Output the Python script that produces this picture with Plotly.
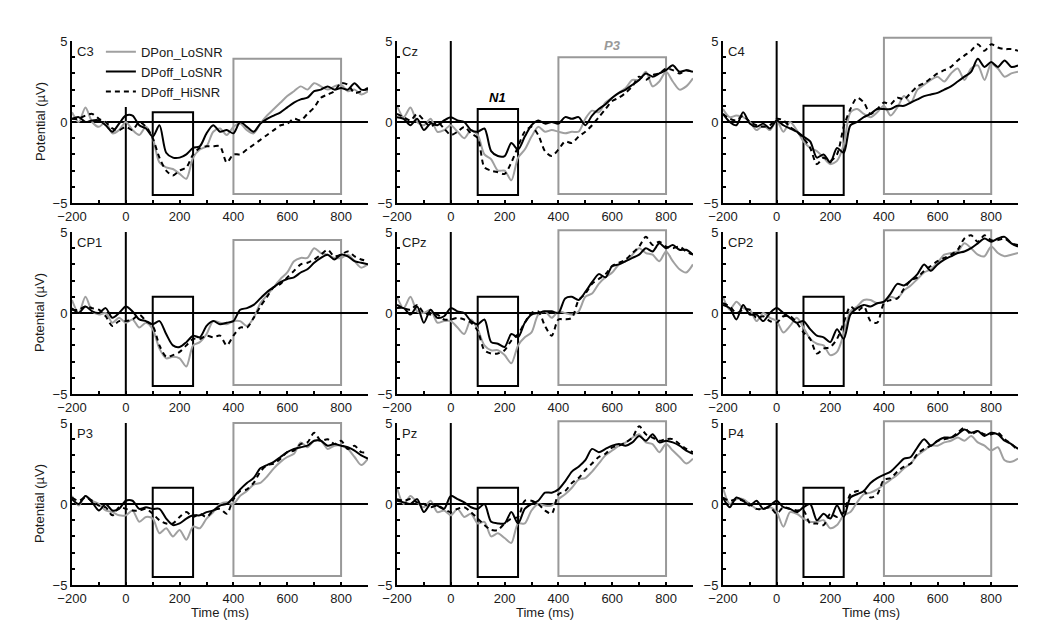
import plotly.graph_objects as go

# ---------------- data ----------------
time_ms = list(range(-200, 901, 25))
series_names = ["DPon_LoSNR", "DPoff_LoSNR", "DPoff_HiSNR"]
channels = ["C3", "Cz", "C4", "CP1", "CPz", "CP2", "P3", "Pz", "P4"]

x_tick_vals = list(range(-200, 901, 100))
x_tick_text = ["\u2212200", "", "0", "", "200", "", "400", "", "600", "", "800", ""]
y_tick_vals = list(range(-5, 6))
y_tick_text = ["\u22125", "", "", "", "", "0", "", "", "", "", "5"]

# N1 window (ms) and P3 window (ms)
n1_window = [100, 250]
p3_window = [400, 800]
n1_top = [0.6, 0.8, 1.0, 1.0, 1.0, 1.0, 1.0, 1.0, 1.0]
n1_bottom = [-4.5] * 9
p3_top = [3.9, 4.0, 5.2, 4.5, 5.1, 5.1, 5.0, 5.1, 5.1]
p3_bottom = [-4.45] * 9

# ---- C3 ----
c3_dpon_lo = [0.6, 0.0, 0.9, 0.0, -0.3, 0.0, -0.7, -0.5,
              0.0, -0.5, -0.8, -0.3, -1.0, -2.5, -2.8, -2.9,
              -3.2, -3.5, -2.2, -1.7, -1.5, -0.6, -0.4, -0.8,
              -0.3, -0.1, -0.5, -0.7, -0.1, 0.4, 0.8, 1.2,
              1.6, 1.9, 2.2, 2.0, 2.4, 2.2, 2.0, 2.2,
              2.3, 1.9, 2.0, 1.7, 1.9]
c3_dpoff_lo = [0.2, 0.3, 0.0, 0.1, 0.1, -0.2, -0.6, -0.1,
               0.4, 0.4, -0.2, -0.4, -0.9, -0.2, -1.9, -2.2,
               -2.2, -2.0, -1.6, -1.5, -0.7, -0.2, -0.6, -0.5,
               -0.7, 0.0, -0.3, -0.6, -0.1, 0.2, 0.4, 0.6,
               0.9, 1.2, 1.4, 1.5, 1.9, 2.0, 2.2, 2.0,
               2.1, 2.0, 2.4, 2.0, 2.0]
c3_dpoff_hi = [0.2, 0.2, 0.4, 0.5, 0.2, 0.0, -0.4, -0.5,
               -0.3, -0.5, 0.0, -0.3, -1.0, -2.2, -3.0, -3.3,
               -3.0, -2.8, -2.0, -1.6, -1.5, -1.5, -1.5, -2.5,
               -2.0, -2.0, -1.7, -1.4, -1.1, -0.8, -0.5, -0.2,
               -0.1, 0.2, 0.1, 0.5, 0.9, 1.5, 1.7, 1.9,
               2.4, 2.3, 1.8, 1.9, 2.1]
# ---- Cz ----
cz_dpon_lo = [1.0, 0.3, 0.9, 0.0, -0.2, 0.2, -0.6, -0.5,
              -0.2, -0.6, -1.0, -0.5, -0.8, -2.0, -2.3, -3.0,
              -3.0, -3.6, -2.2, -1.7, -0.9, -0.3, -0.6, -0.5,
              -0.6, -0.7, -0.6, -0.6, 0.2, 0.7, 0.6, 1.2,
              1.5, 1.8, 2.1, 2.6, 2.6, 3.1, 2.2, 2.5,
              3.1, 2.5, 2.0, 2.2, 2.7]
cz_dpoff_lo = [0.3, 0.2, -0.2, 0.2, -0.5, -0.1, -0.2, 0.1,
               0.3, 0.1, 0.0, -0.5, -0.6, -0.4, -1.8, -2.1,
               -2.1, -1.3, -1.7, -0.9, -0.2, 0.1, -0.1, 0.0,
               -0.1, 0.3, 0.2, 0.3, -0.2, 0.4, 0.8, 1.1,
               1.5, 1.8, 2.0, 2.3, 2.6, 3.0, 2.8, 3.0,
               3.2, 3.5, 3.1, 3.2, 3.1]
cz_dpoff_hi = [0.5, 0.3, 0.1, 0.5, 0.1, -0.3, 0.0, -0.4,
               -0.8, -0.6, -0.3, -0.7, -1.0, -2.8, -3.0, -3.1,
               -3.2, -2.5, -1.5, -0.6, -0.3, -0.8, -1.8, -2.1,
               -1.7, -1.2, -1.3, -0.9, -0.6, -0.2, 0.3, 0.8,
               1.3, 1.5, 1.8, 2.2, 2.8, 2.6, 2.9, 3.0,
               3.3, 3.2, 3.0, 3.2, 3.1]
# ---- C4 ----
c4_dpon_lo = [0.8, 0.3, 0.4, 0.3, 0.0, -0.5, -0.2, -0.5,
              0.1, -0.6, 0.0, -0.5, -1.2, -1.6, -1.8, -2.2,
              -2.6, -2.4, -1.4, 0.6, 0.8, 0.5, 0.3, 0.6,
              1.0, 0.4, 0.9, 1.6, 1.2, 2.0, 2.3, 2.6,
              2.8, 2.5, 3.0, 3.3, 2.6, 3.3, 3.5, 2.6,
              3.6, 3.3, 2.8, 3.0, 3.1]
c4_dpoff_lo = [0.5, 0.0, -0.2, 0.6, -0.1, -0.3, -0.1, -0.4,
               0.1, -0.2, -0.4, -0.6, -0.9, -1.2, -2.2, -2.0,
               -2.5, -1.6, -1.9, -0.2, 0.0, 0.3, 0.5, 0.8,
               0.8, 0.8, 1.0, 1.0, 1.2, 1.4, 1.6, 1.7,
               1.8, 2.0, 2.2, 2.5, 2.8, 3.1, 3.9, 3.4,
               3.7, 3.4, 3.8, 3.4, 3.5]
c4_dpoff_hi = [0.5, 0.2, 0.1, 0.4, 0.0, -0.2, -0.3, -0.2,
               0.2, 0.1, -0.3, -0.6, -1.0, -1.6, -2.6, -2.2,
               -2.4, -2.0, -0.3, 0.8, 1.5, 1.2, 0.5, 0.8,
               1.2, 1.1, 1.5, 1.4, 1.8, 2.2, 2.4, 2.7,
               3.0, 3.2, 3.4, 3.8, 4.1, 4.4, 4.8, 4.4,
               4.8, 4.6, 4.5, 4.5, 4.4]
# ---- CP1 ----
cp1_dpon_lo = [0.8, 0.0, 1.0, 0.1, -0.1, 0.0, -0.6, -0.3,
               -0.6, -0.4, -0.9, -0.6, -1.0, -2.2, -2.8, -2.7,
               -2.8, -3.3, -2.0, -1.8, -1.3, -0.5, -0.6, -0.7,
               -0.5, -0.5, -0.8, -0.3, 0.6, 1.1, 1.6, 2.1,
               2.5, 3.2, 3.4, 3.4, 4.0, 3.7, 3.6, 3.4,
               3.4, 3.6, 3.2, 2.8, 3.0]
cp1_dpoff_lo = [0.3, 0.0, 0.4, 0.1, 0.0, 0.3, -0.3, 0.0,
                0.4, 0.1, -0.4, -0.5, -0.7, -0.5, -1.3, -2.0,
                -2.1, -1.8, -1.4, -1.5, -0.8, -0.5, -0.7, -0.6,
                -0.5, 0.2, 0.3, 0.5, 0.9, 1.3, 1.6, 1.9,
                2.1, 2.2, 2.5, 2.7, 3.1, 3.4, 3.6, 3.3,
                3.6, 3.5, 3.2, 3.1, 3.0]
cp1_dpoff_hi = [0.2, 0.2, 0.4, 0.3, 0.2, -0.2, -0.8, -0.5,
                -0.5, -0.4, -0.1, -0.5, -0.8, -2.0, -2.7, -2.6,
                -2.4, -2.0, -1.6, -1.6, -1.4, -1.5, -1.4, -2.0,
                -1.4, -0.9, -0.9, -0.3, 0.4, 1.0, 1.6, 1.8,
                2.2, 2.6, 3.0, 3.1, 3.3, 3.6, 3.9, 3.5,
                3.6, 3.8, 3.5, 3.3, 3.2]
# ---- CPz ----
cpz_dpon_lo = [1.0, 0.3, 1.0, 0.1, 0.0, 0.2, -0.6, -0.5,
               -0.5, -0.9, -1.3, -0.4, -1.0, -2.0, -2.3, -2.3,
               -2.6, -3.1, -2.0, -1.5, -1.2, -0.1, 0.1, -0.3,
               0.1, 0.0, -0.1, 0.1, 1.0, 1.2, 1.8, 2.2,
               2.5, 3.0, 3.2, 3.6, 4.0, 3.7, 3.6, 3.2,
               3.8, 3.2, 2.7, 2.5, 3.0]
cpz_dpoff_lo = [0.3, 0.3, -0.1, 0.4, -0.6, 0.2, -0.3, -0.2,
                0.3, 0.1, 0.0, -0.5, -0.7, -0.4, -1.8, -1.9,
                -2.1, -1.3, -1.5, -0.6, -0.1, 0.0, 0.1, 0.1,
                0.0, 0.9, 1.0, 0.8, 1.3, 1.9, 2.4, 2.2,
                2.9, 3.0, 3.2, 3.4, 3.6, 4.0, 3.8, 4.3,
                4.0, 4.2, 3.9, 3.9, 3.6]
cpz_dpoff_hi = [0.5, 0.3, 0.2, 0.5, 0.0, -0.1, -0.1, -0.4,
                -0.4, -0.3, -0.4, -0.6, -1.1, -2.3, -2.5, -2.5,
                -2.3, -1.7, -1.3, -0.6, 0.0, 0.1, -0.8, -1.4,
                -0.4, -0.4, -0.3, 0.8, 1.2, 1.8, 2.1, 2.4,
                2.9, 3.1, 3.3, 3.7, 4.1, 4.7, 4.2, 4.4,
                4.1, 4.0, 4.1, 3.8, 3.6]
# ---- CP2 ----
cp2_dpon_lo = [1.0, 0.2, 0.7, 0.3, 0.2, -0.5, 0.0, -0.3,
               -0.5, -1.2, -0.8, -0.3, -0.9, -1.6, -1.9, -2.0,
               -2.6, -2.4, -1.3, 0.1, 0.4, 0.8, 0.8, 0.6,
               0.7, 1.0, 0.9, 1.4, 1.7, 2.1, 2.5, 2.7,
               3.1, 3.6, 3.7, 3.8, 4.3, 4.0, 3.6, 3.5,
               4.1, 3.7, 3.5, 3.6, 3.7]
cp2_dpoff_lo = [0.5, 0.3, -0.4, 0.5, -0.1, -0.1, -0.5, 0.0,
                0.3, 0.0, -0.3, -0.6, -0.5, -1.0, -1.4, -1.5,
                -1.8, -1.0, -1.6, -0.1, 0.3, 0.5, 0.4, 0.6,
                0.7, 1.2, 1.8, 1.7, 2.0, 2.4, 3.0, 2.6,
                3.0, 3.3, 3.5, 3.7, 3.8, 4.0, 4.3, 4.6,
                4.4, 4.6, 4.7, 4.3, 4.1]
cp2_dpoff_hi = [0.6, 0.4, 0.0, 0.2, 0.2, -0.3, -0.2, -0.5,
                -0.6, -0.2, -0.2, -0.6, -1.2, -1.6, -2.5, -2.2,
                -2.1, -1.6, -0.6, 0.4, 0.1, 0.4, -0.5, -0.6,
                0.6, 0.8, 0.9, 1.5, 2.0, 2.2, 2.6, 2.9,
                3.2, 3.4, 3.6, 3.9, 4.6, 4.8, 4.4, 4.8,
                4.5, 4.5, 4.6, 4.3, 4.2]
# ---- P3 ----
p3_dpon_lo = [0.5, -0.1, 0.5, 0.2, 0.0, -0.4, -0.5, -0.7,
              -0.7, -0.4, -1.1, -0.8, -0.9, -1.8, -1.5, -2.0,
              -1.6, -2.2, -1.4, -1.5, -0.9, -0.5, 0.0, 0.1,
              0.0, 0.5, 0.8, 1.2, 1.3, 1.7, 2.2, 2.6,
              2.9, 3.1, 3.8, 3.5, 3.9, 3.9, 3.4, 3.6,
              3.6, 3.4, 2.9, 2.4, 2.8]
p3_dpoff_lo = [0.3, 0.0, 0.5, 0.1, -0.4, 0.0, -0.4, -0.3,
               0.2, 0.2, -0.3, -0.2, -0.3, -0.3, -0.9, -1.3,
               -1.2, -0.9, -0.7, -0.7, -0.5, -0.4, -0.1, 0.0,
               0.4, 0.9, 1.3, 1.6, 2.2, 2.4, 2.6, 2.9,
               3.2, 3.4, 3.5, 3.6, 3.9, 3.9, 3.6, 3.7,
               3.6, 3.5, 3.3, 3.0, 2.8]
p3_dpoff_hi = [0.4, 0.2, 0.4, 0.2, -0.1, -0.2, -0.7, -0.2,
               -0.3, -0.4, -0.4, -0.3, -0.6, -1.0, -1.2, -1.2,
               -0.8, -0.5, -0.8, -0.6, -0.8, -0.4, -0.3, -0.6,
               0.3, 0.8, 0.9, 1.3, 2.0, 2.4, 2.5, 2.8,
               3.2, 3.3, 3.7, 3.8, 4.4, 3.9, 4.0, 3.7,
               3.9, 3.4, 3.6, 3.2, 3.2]
# ---- Pz ----
pz_dpon_lo = [1.0, 0.0, 0.5, 0.1, -0.2, 0.2, -0.5, -0.4,
              -0.7, -0.3, -0.8, -0.6, -1.2, -1.1, -2.0, -1.8,
              -2.1, -2.4, -1.2, -1.2, -0.4, 0.0, -0.1, -0.1,
              0.3, 0.6, 1.0, 1.5, 1.6, 2.0, 2.5, 3.0,
              3.3, 3.6, 3.8, 4.1, 4.3, 3.8, 3.7, 3.2,
              3.7, 3.3, 2.9, 2.5, 2.8]
pz_dpoff_lo = [0.2, 0.1, 0.0, 0.3, -0.5, 0.0, -0.1, -0.3,
               0.5, 0.3, 0.1, -0.2, -0.3, 0.0, -1.1, -1.2,
               -1.2, -0.5, -1.2, -0.3, 0.0, 0.2, 0.7, 0.7,
               0.9, 1.4, 2.0, 2.3, 2.7, 3.4, 3.2, 3.4,
               3.6, 3.7, 3.6, 3.8, 4.2, 3.9, 4.3, 3.8,
               3.9, 3.8, 3.6, 3.3, 3.1]
pz_dpoff_hi = [0.3, 0.2, 0.3, 0.1, 0.0, -0.2, -0.1, -0.3,
               -0.5, -0.3, -0.2, -0.5, -0.9, -1.3, -1.6, -1.6,
               -1.2, -0.9, -0.8, 0.2, 0.2, 0.0, -0.4, -0.6,
               0.6, 0.8, 1.3, 1.6, 2.1, 2.5, 2.9, 3.1,
               3.5, 3.6, 3.8, 4.1, 4.8, 4.3, 4.1, 3.9,
               4.0, 4.0, 3.7, 3.4, 3.2]
# ---- P4 ----
p4_dpon_lo = [1.0, 0.0, 0.3, 0.3, 0.0, -0.3, -0.3, -0.2,
              -0.5, -1.4, -0.5, -0.6, -0.9, -1.1, -1.1, -1.0,
              -1.5, -1.3, -0.7, -0.5, 0.1, 0.6, 0.7, 0.9,
              1.2, 1.5, 1.8, 2.2, 2.5, 3.0, 3.3, 3.6,
              3.6, 3.8, 3.9, 4.1, 3.9, 4.2, 3.8, 3.6,
              3.3, 3.5, 2.7, 2.6, 2.8]
p4_dpoff_lo = [0.4, -0.2, 0.4, 0.2, -0.1, 0.2, -0.3, -0.1,
               0.2, -0.2, -0.3, -0.5, -0.2, 0.0, -1.0, -0.6,
               -0.9, -0.1, -0.8, 0.4, 0.6, 0.8, 1.3, 1.6,
               1.8, 2.0, 2.4, 2.8, 2.9, 3.5, 4.0, 3.6,
               3.9, 4.1, 4.1, 4.3, 4.6, 4.4, 4.5, 4.2,
               4.4, 4.3, 3.9, 3.7, 3.4]
p4_dpoff_hi = [0.4, 0.2, 0.3, 0.2, 0.0, -0.3, -0.3, -0.2,
               -0.6, -0.2, -0.3, -0.4, -0.4, -1.2, -1.2, -1.3,
               -0.6, -0.8, -0.5, 0.6, 0.8, 0.8, 0.4, 0.6,
               1.5, 1.6, 2.0, 2.3, 2.5, 3.1, 3.4, 3.6,
               3.9, 4.0, 4.1, 4.4, 4.7, 4.3, 4.5, 4.3,
               4.3, 4.4, 4.0, 3.7, 3.3]

panel_data = {
    "C3": (c3_dpon_lo, c3_dpoff_lo, c3_dpoff_hi),
    "Cz": (cz_dpon_lo, cz_dpoff_lo, cz_dpoff_hi),
    "C4": (c4_dpon_lo, c4_dpoff_lo, c4_dpoff_hi),
    "CP1": (cp1_dpon_lo, cp1_dpoff_lo, cp1_dpoff_hi),
    "CPz": (cpz_dpon_lo, cpz_dpoff_lo, cpz_dpoff_hi),
    "CP2": (cp2_dpon_lo, cp2_dpoff_lo, cp2_dpoff_hi),
    "P3": (p3_dpon_lo, p3_dpoff_lo, p3_dpoff_hi),
    "Pz": (pz_dpon_lo, pz_dpoff_lo, pz_dpoff_hi),
    "P4": (p4_dpon_lo, p4_dpoff_lo, p4_dpoff_hi),
}

# ---------------- styling ----------------
FONT = "Liberation Sans, Arial, Helvetica, sans-serif"
TXT = "#1a1a1a"
GRAY_LINE = "#a0a0a0"
GRAY_BOX = "#999999"
Y_MIN, Y_MAX = -5, 5

styles = [
    dict(color=GRAY_LINE, width=2.0, dash="solid"),
    dict(color="#000000", width=2.0, dash="solid"),
    dict(color="#000000", width=2.0, dash="5px,4px"),
]
draw_order = [0, 2, 1]
legend_rank = {0: 1, 1: 2, 2: 3}

x_domains = [[0.0678, 0.3465], [0.3738, 0.6525], [0.6808, 0.9586]]
y_domains = [[0.6793, 0.9352], [0.3776, 0.6335], [0.0758, 0.3318]]


def dom_frac(v):
    return (v - Y_MIN) / (Y_MAX - Y_MIN)


fig = go.Figure()
layout = {}
shapes = []
annotations = []

for i, ch in enumerate(channels):
    r, c = divmod(i, 3)
    ax = "" if i == 0 else str(i + 1)
    xref, yref = "x" + ax, "y" + ax
    vals = panel_data[ch]
    for k in draw_order:
        fig.add_trace(go.Scatter(
            x=time_ms, y=vals[k], mode="lines",
            line=dict(color=styles[k]["color"], width=styles[k]["width"],
                      dash=styles[k]["dash"], shape="spline", smoothing=0.8),
            name=series_names[k], legendrank=legend_rank[k],
            showlegend=(i == 0), xaxis=xref, yaxis=yref, hoverinfo="skip"))

    common = dict(showline=True, linecolor="black", linewidth=2, mirror=False,
                  ticks="inside", ticklen=3, tickwidth=2, tickcolor="black",
                  showgrid=False, zeroline=False, automargin=False,
                  tickfont=dict(family=FONT, size=13, color=TXT))
    layout["xaxis" + ax] = dict(common, domain=x_domains[c], range=[-200, 900],
                                tickmode="array", tickvals=x_tick_vals, ticktext=x_tick_text,
                                anchor=yref)
    layout["yaxis" + ax] = dict(common, domain=y_domains[r], range=[Y_MIN, Y_MAX],
                                tickmode="array", tickvals=y_tick_vals, ticktext=y_tick_text,
                                anchor=xref)

    # zero lines
    shapes.append(dict(type="line", xref=xref, yref=yref, x0=-200, x1=900, y0=0, y1=0,
                       line=dict(color="black", width=2), layer="below"))
    shapes.append(dict(type="line", xref=xref, yref=yref, x0=0, x1=0, y0=Y_MIN, y1=Y_MAX,
                       line=dict(color="black", width=2), layer="below"))
    # analysis windows (y in domain fraction so the frame is not clipped)
    shapes.append(dict(type="rect", xref=xref, yref=yref + " domain",
                       x0=n1_window[0], x1=n1_window[1],
                       y0=dom_frac(n1_bottom[i]), y1=dom_frac(n1_top[i]),
                       line=dict(color="black", width=2),
                       fillcolor="rgba(0,0,0,0)", layer="below"))
    shapes.append(dict(type="rect", xref=xref, yref=yref + " domain",
                       x0=p3_window[0], x1=p3_window[1],
                       y0=dom_frac(p3_bottom[i]), y1=dom_frac(p3_top[i]),
                       line=dict(color=GRAY_BOX, width=2),
                       fillcolor="rgba(0,0,0,0)", layer="below"))
    # channel label
    annotations.append(dict(text=ch, xref=xref, yref=yref, x=-189, y=4.35,
                            xanchor="left", yanchor="middle", showarrow=False,
                            font=dict(family=FONT, size=13, color=TXT)))
    if c == 0:
        yc = sum(y_domains[r]) / 2
        annotations.append(dict(text="Potential (\u00b5V)", xref="paper", yref="paper",
                                x=0.0377, y=yc, textangle=-90, showarrow=False,
                                xanchor="center", yanchor="middle",
                                font=dict(family=FONT, size=13, color=TXT)))
    if r == 2:
        xc = sum(x_domains[c]) / 2
        annotations.append(dict(text="Time (ms)", xref="paper", yref="paper",
                                x=xc, y=0.033, showarrow=False,
                                xanchor="center", yanchor="middle",
                                font=dict(family=FONT, size=13, color=TXT)))

# component labels in Cz panel
annotations.append(dict(text="<b><i>N1</i></b>", xref="x2", yref="y2", x=175, y=1.5,
                        showarrow=False, font=dict(family=FONT, size=13, color="black")))
annotations.append(dict(text="<b><i>P3</i></b>", xref="x2", yref="y2", x=600, y=4.75,
                        showarrow=False, font=dict(family=FONT, size=13, color=GRAY_BOX)))

fig.update_layout(
    width=1062, height=633,
    margin=dict(l=0, r=0, t=0, b=0, autoexpand=False),
    paper_bgcolor="white", plot_bgcolor="white",
    font=dict(family=FONT, size=13, color=TXT),
    shapes=shapes, annotations=annotations,
    legend=dict(x=0.095, y=0.942, xanchor="left", yanchor="top",
                bgcolor="white", borderwidth=0, tracegroupgap=0,
                font=dict(family=FONT, size=13, color=TXT)),
    **layout,
)

fig.write_html("out.html")
